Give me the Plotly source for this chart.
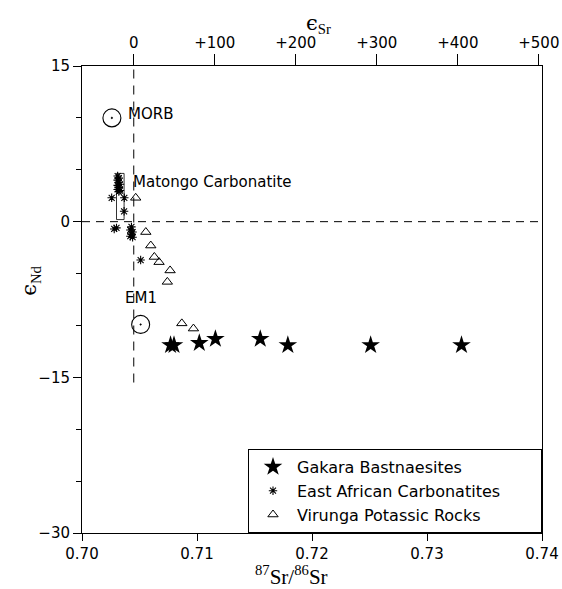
import plotly.graph_objects as go

# ---------------- data ----------------
gakara_x = [0.7077, 0.7080, 0.7102, 0.7116, 0.7155, 0.7179, 0.7251, 0.7330]
gakara_y = [-11.9, -11.9, -11.7, -11.3, -11.3, -11.9, -11.9, -11.9]

carb_x = [0.7031, 0.7032, 0.7031, 0.7032, 0.7033, 0.7031, 0.7032, 0.7031, 0.7033, 0.7032,
          0.70258, 0.70368, 0.70366, 0.7028, 0.7030,
          0.7043, 0.7042, 0.7044, 0.7043, 0.7042, 0.7044, 0.7051]
carb_y = [4.4, 4.2, 4.0, 3.8, 3.6, 3.5, 3.3, 3.1, 3.0, 2.9,
          2.3, 2.3, 1.0, -0.7, -0.6,
          -0.5, -0.8, -1.0, -1.2, -1.4, -1.5, -3.7]

virunga_x = [0.70467, 0.70555, 0.70598, 0.70629, 0.70670, 0.70766, 0.70742, 0.70868, 0.70969]
virunga_y = [2.3, -1.0, -2.3, -3.4, -3.9, -4.7, -5.8, -9.8, -10.3]

ref_names = ["MORB", "EM1"]
ref_x = [0.7026, 0.7051]
ref_y = [10.0, -9.9]

matongo_box_x = [0.7030, 0.70366]
matongo_box_y = [0.2, 4.65]
matongo_label_y = 3.8

sr_ur = 0.7045  # epsilon Sr = 0
eps_line_bottom = -15.5
eps_sr_ticks = [0, 100, 200, 300, 400, 500]
eps_sr_text = ["0", "+100", "+200", "+300", "+400", "+500"]

x_ticks = [0.70, 0.71, 0.72, 0.73, 0.74]
x_text = ["0.70", "0.71", "0.72", "0.73", "0.74"]
y_ticks = [15, 0, -15, -30]
y_text = ["15", "0", "\u221215", "\u221230"]
y_minor = [10, 5, -5, -10, -20, -25]

x_range = [0.70, 0.74]
y_range = [-30, 15]

legend_names = ["Gakara Bastnaesites", "East African Carbonatites", "Virunga Potassic Rocks"]

# ---------------- figure ----------------
SANS = "DejaVu Sans"
SERIF = "Liberation Serif"
NB = "\u00a0" * 7  # right padding inside legend box

fig = go.Figure()

fig.add_trace(go.Scatter(
    x=gakara_x, y=gakara_y, mode="markers", name=legend_names[0] + NB,
    marker=dict(symbol="star", size=14, color="black", line=dict(width=0)),
))
fig.add_trace(go.Scatter(
    x=carb_x, y=carb_y, mode="markers", name=legend_names[1] + NB,
    marker=dict(symbol="asterisk-open", size=7, color="black", line=dict(width=1.1, color="black")),
))
fig.add_trace(go.Scatter(
    x=virunga_x, y=virunga_y, mode="markers", name=legend_names[2] + NB,
    marker=dict(symbol="triangle-up-open", size=9, color="black", line=dict(width=1, color="black")),
))
fig.add_trace(go.Scatter(
    x=ref_x, y=ref_y, mode="markers", showlegend=False,
    marker=dict(symbol="circle-open-dot", size=18, color="black", line=dict(width=1.1, color="black")),
))
# invisible trace to hold the top (epsilon Sr) axis
fig.add_trace(go.Scatter(
    x=x_range, y=[0, 0], xaxis="x2", mode="markers", showlegend=False,
    hoverinfo="skip", marker=dict(opacity=0),
))

# dashed reference lines
fig.add_shape(type="line", xref="x", yref="y", x0=x_range[0], x1=x_range[1], y0=0, y1=0,
              line=dict(color="black", width=1, dash="8px,6px"), layer="below")
fig.add_shape(type="line", xref="x", yref="y", x0=sr_ur, x1=sr_ur, y0=eps_line_bottom, y1=y_range[1],
              line=dict(color="black", width=1, dash="9px,7px"), layer="below")
# Matongo box
fig.add_shape(type="rect", xref="x", yref="y",
              x0=matongo_box_x[0], x1=matongo_box_x[1], y0=matongo_box_y[0], y1=matongo_box_y[1],
              line=dict(color="black", width=0.8), layer="below")

ann_font = dict(family=SANS, size=15, color="black")
fig.add_annotation(x=ref_x[0], y=ref_y[0], text=ref_names[0], showarrow=False,
                   xanchor="left", yanchor="middle", xshift=14, yshift=4, font=ann_font)
fig.add_annotation(x=ref_x[1], y=ref_y[1], text=ref_names[1], showarrow=False,
                   xanchor="center", yanchor="middle", yshift=26, font=ann_font)
fig.add_annotation(x=matongo_box_x[1], y=matongo_label_y, text="Matongo Carbonatite", showarrow=False,
                   xanchor="left", yanchor="middle", xshift=7, font=ann_font)

# axis titles
eps = "<span style='font-family:DejaVu Serif'>\u03f5</span>"
fig.add_annotation(xref="paper", yref="paper", x=0.515, y=1.09,
                   xanchor="center", yanchor="middle",
                   text=eps + "<sub>Sr</sub>", showarrow=False,
                   font=dict(family=SERIF, size=21, color="black"))
fig.add_annotation(xref="paper", yref="paper", x=-0.113, y=0.54,
                   xanchor="center", yanchor="middle", textangle=-90,
                   text=eps + "<sub>Nd</sub>", showarrow=False,
                   font=dict(family=SERIF, size=21, color="black"))
fig.add_annotation(xref="paper", yref="paper", x=0.455, y=-0.092,
                   xanchor="center", yanchor="middle",
                   text="<sup>87</sup>Sr/<sup>86</sup>Sr", showarrow=False,
                   font=dict(family=SERIF, size=21, color="black"))

tick_font = dict(family=SANS, size=15, color="black")
top_vals = [sr_ur * (1 + e / 1e4) for e in eps_sr_ticks]

fig.update_layout(
    width=562, height=589, autosize=False,
    margin=dict(l=82, r=20, t=66, b=56, autoexpand=False),
    paper_bgcolor="white", plot_bgcolor="white",
    showlegend=True,
    legend=dict(
        x=1, y=0, xanchor="right", yanchor="bottom",
        bordercolor="black", borderwidth=1, bgcolor="white",
        font=dict(family=SANS, size=16, color="black"),
        itemsizing="trace", itemwidth=38, tracegroupgap=0,
    ),
    xaxis=dict(
        range=x_range, tickmode="array", tickvals=x_ticks, ticktext=x_text,
        ticks="outside", ticklen=7, tickwidth=1, tickcolor="black",
        showline=True, linecolor="black", linewidth=1, automargin=False,
        showgrid=False, zeroline=False, tickfont=tick_font,
    ),
    xaxis2=dict(
        range=x_range, overlaying="x", side="top", anchor="y",
        tickmode="array", tickvals=top_vals, ticktext=eps_sr_text,
        ticks="outside", ticklen=11, tickwidth=1, tickcolor="black",
        showline=True, linecolor="black", linewidth=1, automargin=False,
        showgrid=False, zeroline=False, tickfont=tick_font,
    ),
    yaxis=dict(
        range=y_range, tickmode="array", tickvals=y_ticks, ticktext=y_text,
        ticks="outside", ticklen=8, tickwidth=1, tickcolor="black",
        minor=dict(tickmode="array", tickvals=y_minor, ticks="outside", ticklen=5,
                   tickcolor="black", showgrid=False),
        showline=True, linecolor="black", linewidth=1, mirror=True, automargin=False,
        showgrid=False, zeroline=False, tickfont=tick_font,
    ),
)

fig.write_html(
    "out.html",
    config={"responsive": False, "displayModeBar": False},
    default_width="562px", default_height="589px",
    post_script="document.body.style.margin='0';document.body.style.overflow='hidden';",
)
